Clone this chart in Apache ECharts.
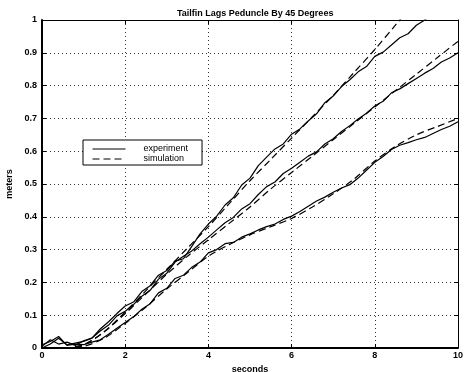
<!DOCTYPE html>
<html><head><meta charset="utf-8">
<script src="https://cdn.jsdelivr.net/npm/echarts@6/dist/echarts.min.js"></script>
<style>html,body{margin:0;padding:0;background:#fff}#c{width:466px;height:372px}</style>
</head><body><div id="c"></div>
<script>
const titleText = 'Tailfin Lags Peduncle By 45 Degrees';
const xName = 'seconds';
const yName = 'meters';
const legendNames = ['experiment', 'simulation'];

const tExp = [0,0.2,0.4,0.6,0.8,1,1.2,1.4,1.6,1.8,2,2.2,2.4,2.6,2.8,3,3.2,3.4,3.6,3.8,4,4.2,4.4,4.6,4.8,5,5.2,5.4,5.6,5.8,6,6.2,6.4,6.6,6.8,7,7.2,7.4,7.6,7.8,8,8.2,8.4,8.6,8.8,9,9.2,9.4,9.6,9.8,10];
const expTop = [0.005,0.025,0.012,0.018,0.008,0.022,0.03,0.058,0.08,0.105,0.128,0.14,0.172,0.19,0.222,0.236,0.265,0.272,0.31,0.348,0.378,0.402,0.436,0.458,0.497,0.518,0.556,0.582,0.607,0.622,0.652,0.668,0.692,0.714,0.748,0.768,0.797,0.818,0.842,0.858,0.889,0.902,0.924,0.946,0.958,0.984,1.0,1.02,1.04,1.06,1.08];
const expMid = [0,0.012,0.03,0.01,0.015,0.02,0.03,0.052,0.07,0.098,0.112,0.132,0.158,0.176,0.21,0.228,0.262,0.28,0.296,0.318,0.338,0.36,0.382,0.398,0.424,0.44,0.468,0.492,0.506,0.532,0.548,0.566,0.585,0.598,0.622,0.638,0.66,0.678,0.698,0.716,0.738,0.752,0.778,0.79,0.806,0.822,0.838,0.852,0.872,0.884,0.9];
const expBot = [0.01,0.02,0.035,0.008,0.012,0.01,0.018,0.025,0.042,0.06,0.078,0.095,0.118,0.135,0.168,0.182,0.212,0.222,0.246,0.262,0.29,0.3,0.318,0.322,0.338,0.348,0.36,0.37,0.378,0.392,0.402,0.416,0.432,0.448,0.46,0.475,0.488,0.498,0.518,0.542,0.566,0.584,0.605,0.618,0.626,0.635,0.642,0.654,0.666,0.676,0.69];

const tSim = [0,0.5,1,1.5,2,2.5,3,3.5,4,4.5,5,5.5,6,6.5,7,7.5,8,8.5,9,9.5,10];
const simTop = [0,0,0.01,0.05,0.11,0.175,0.24,0.305,0.37,0.44,0.51,0.575,0.64,0.705,0.77,0.84,0.91,0.985,1.06,1.13,1.2];
const simMid = [0,0,0.01,0.05,0.105,0.165,0.225,0.28,0.33,0.38,0.43,0.485,0.535,0.585,0.635,0.685,0.735,0.785,0.835,0.885,0.935];
const simBot = [0,0,0.005,0.03,0.075,0.125,0.18,0.23,0.28,0.315,0.345,0.37,0.395,0.43,0.47,0.515,0.57,0.615,0.65,0.675,0.70];

const pairs = (t, y) => t.map((v, i) => [v, y[i]]);
const font = 'Liberation Sans';

const expSeries = y => ({
  type: 'line', name: legendNames[0], data: pairs(tExp, y), symbol: 'none', legendIcon: 'none',
  lineStyle: { color: '#000', width: 1.2, type: 'solid' }, itemStyle: { color: '#000' },
  clip: true, animation: false
});
const simSeries = y => ({
  type: 'line', name: legendNames[1], data: pairs(tSim, y), symbol: 'none', legendIcon: 'none', smooth: 0.3,
  lineStyle: { color: '#000', width: 1.2, type: [7, 4] }, itemStyle: { color: '#000' },
  clip: true, animation: false
});

const chart = echarts.init(document.getElementById('c'), null, { renderer: 'canvas' });
chart.setOption({
  backgroundColor: '#fff',
  animation: false,
  title: { text: titleText, left: 172, top: 4,
    textStyle: { fontFamily: font, fontSize: 9, fontWeight: 'bold', color: '#000' } },
  grid: { left: 42, right: 8, top: 20, bottom: 24, show: false, outerBoundsMode: 'none', containLabel: false },
  legend: {
    data: legendNames, orient: 'vertical', left: 83, top: 140,
    itemWidth: 33, itemHeight: 10, itemGap: 0,
    padding: [4, 14, 1, 9],
    itemStyle: { opacity: 0 },
    lineStyle: { width: 1 },
    backgroundColor: '#fff', borderColor: '#000', borderWidth: 1,
    textStyle: { fontFamily: font, fontSize: 9, color: '#000', lineHeight: 10, padding: [0, 0, 0, 13] },
    selectedMode: false
  },
  xAxis: [{
    type: 'value', min: 0, max: 10, interval: 2, position: 'bottom',
    name: xName, nameLocation: 'middle', nameGap: 15,
    nameTextStyle: { fontFamily: font, fontSize: 9, fontWeight: 'bold', color: '#000' },
    axisLine: { show: true, onZero: false, lineStyle: { color: '#000', width: 2 } },
    axisTick: { show: true, inside: true, length: 4, lineStyle: { color: '#000' } },
    axisLabel: { fontFamily: font, fontSize: 9, fontWeight: 'bold', color: '#000', margin: 3 },
    splitLine: { show: true, lineStyle: { color: '#333', width: 1, type: [1, 3] } }
  }, {
    type: 'value', min: 0, max: 10, interval: 2, position: 'top',
    axisLine: { show: true, onZero: false, lineStyle: { color: '#000', width: 1 } },
    axisTick: { show: true, inside: true, length: 4, lineStyle: { color: '#000' } },
    axisLabel: { show: false }, splitLine: { show: false }
  }],
  yAxis: [{
    type: 'value', min: 0, max: 1, interval: 0.1, position: 'left',
    name: yName, nameLocation: 'middle', nameGap: 17,
    nameTextStyle: { fontFamily: font, fontSize: 9, fontWeight: 'bold', color: '#000' },
    axisLine: { show: true, onZero: false, lineStyle: { color: '#000', width: 2 } },
    axisTick: { show: true, inside: true, length: 4, lineStyle: { color: '#000' } },
    axisLabel: { fontFamily: font, fontSize: 9, fontWeight: 'bold', color: '#000', margin: 5 },
    splitLine: { show: true, lineStyle: { color: '#333', width: 1, type: [1, 3] } }
  }, {
    type: 'value', min: 0, max: 1, interval: 0.1, position: 'right',
    axisLine: { show: true, onZero: false, lineStyle: { color: '#000', width: 1 } },
    axisTick: { show: true, inside: true, length: 4, lineStyle: { color: '#000' } },
    axisLabel: { show: false }, splitLine: { show: false }
  }],
  series: [
    expSeries(expTop), expSeries(expMid), expSeries(expBot),
    simSeries(simTop), simSeries(simMid), simSeries(simBot)
  ]
});
</script>
</body></html>
